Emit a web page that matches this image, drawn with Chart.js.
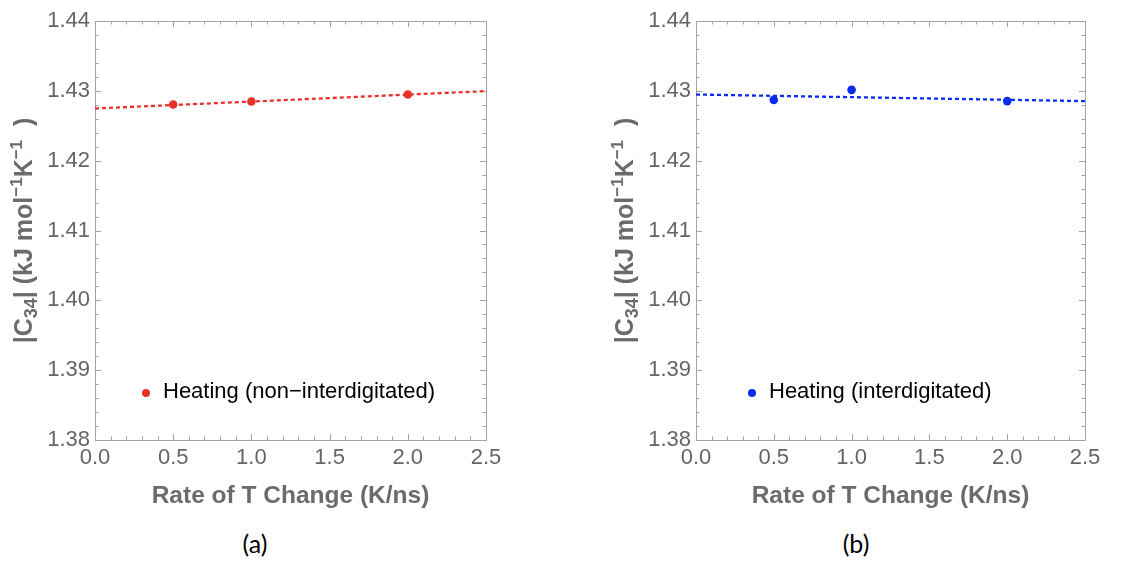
<!DOCTYPE html>
<html>
<head>
  <script src="https://cdn.jsdelivr.net/npm/chart.js@4/dist/chart.umd.min.js"></script>
  <style>
    body { margin: 0; background: #fff; }
    #wrap { position: relative; width: 1143px; height: 561px; }
    canvas { position: absolute; top: 0; }
    .cap { position: absolute; top: 528px; font-family: Lato, "Open Sans", sans-serif; font-size: 25px; color: #000; transform: translateX(-50%); }
  </style>
</head>
<body>
<div id="wrap">
  <canvas id="chartA" width="570" height="520" style="left:0px"></canvas>
  <canvas id="chartB" width="542" height="520" style="left:601px"></canvas>
  <div class="cap" style="left:255px">(a)</div>
  <div class="cap" style="left:856px">(b)</div>
</div>

<script>
// rates of temperature change (K/ns)
var rates = [0.5, 1.0, 2.0];
// |C34| values
var heatNonInter = [1.42804, 1.42847, 1.42947];
var heatInter = [1.42871, 1.43014, 1.42853];
// dotted fit lines, ends at x = 0 and x = 2.5
var fitX = [0, 2.5];
var fitNonInter = [1.42747, 1.42996];
var fitInter = [1.42947, 1.42853];
// tick labels
var xTicks = [0.0, 0.5, 1.0, 1.5, 2.0, 2.5];
var yTicks = [1.38, 1.39, 1.40, 1.41, 1.42, 1.43, 1.44];

var tickColor = "#656565";
var frameColor = "#a3a3a3";
var sans = "'Liberation Sans', Arial, sans-serif";

function pts(xs, ys) {
  return xs.map(function(x, i) { return {x: x, y: ys[i]}; });
}

// frame, inward ticks, axis titles and the legend, Mathematica style
var framePlugin = {
  id: "frame",
  beforeDatasetsDraw: function(chart) {
    var ctx = chart.ctx, a = chart.chartArea;
    var xs = chart.scales.x, ys = chart.scales.y;
    ctx.save();
    ctx.strokeStyle = frameColor;
    ctx.lineWidth = 1;
    ctx.strokeRect(Math.round(a.left) + 0.5, Math.round(a.top) + 0.5, Math.round(a.right - a.left), Math.round(a.bottom - a.top));
    ctx.beginPath();
    for (var i = 0; i <= 25; i++) {
      var px = Math.round(xs.getPixelForValue(i / 10)) + 0.5;
      var len = (i % 5 === 0) ? 6 : 3.5;
      ctx.moveTo(px, a.bottom); ctx.lineTo(px, a.bottom - len);
      ctx.moveTo(px, a.top); ctx.lineTo(px, a.top + len);
    }
    for (var j = 0; j <= 30; j++) {
      var py = Math.round(ys.getPixelForValue(1.38 + j * 0.002)) + 0.5;
      var l2 = (j % 5 === 0) ? 6 : 3.5;
      ctx.moveTo(a.left, py); ctx.lineTo(a.left + l2, py);
      ctx.moveTo(a.right, py); ctx.lineTo(a.right - l2, py);
    }
    ctx.stroke();
    ctx.restore();
  },
  afterDraw: function(chart, args, opts) {
    var ctx = chart.ctx, a = chart.chartArea;
    ctx.save();
    // x title
    ctx.fillStyle = "#6b6b6b";
    ctx.font = "bold 24.5px " + sans;
    ctx.textAlign = "center";
    ctx.textBaseline = "middle";
    ctx.fillText("Rate of T Change (K/ns)", (a.left + a.right) / 2, a.bottom + 56);

    // y title with sub and superscripts
    var segs = [
      {t: "|C", s: 25, dy: 0},
      {t: "34", s: 18, dy: 5},
      {t: "| (kJ mol", s: 25, dy: 0},
      {t: "\u22121", s: 17, dy: -10},
      {t: "K", s: 25, dy: 0},
      {t: "\u22121", s: 17, dy: -10},
      {t: "  )", s: 25, dy: 0}
    ];
    var total = 0;
    segs.forEach(function(g) {
      ctx.font = "bold " + g.s + "px " + sans;
      g.w = ctx.measureText(g.t).width;
      total += g.w;
    });
    ctx.translate(a.left - 72, (a.top + a.bottom) / 2);
    ctx.rotate(-Math.PI / 2);
    ctx.textAlign = "left";
    ctx.textBaseline = "alphabetic";
    var cx = -total / 2;
    segs.forEach(function(g) {
      ctx.font = "bold " + g.s + "px " + sans;
      ctx.fillText(g.t, cx, 9 + g.dy);
      cx += g.w;
    });
    ctx.restore();

    // legend inside the plot
    ctx.save();
    var lx = a.left + opts.dx, ly = a.top + 372;
    ctx.fillStyle = opts.color;
    ctx.beginPath();
    ctx.arc(lx, ly, 4, 0, Math.PI * 2);
    ctx.fill();
    ctx.fillStyle = "#000";
    ctx.font = "22px " + sans;
    ctx.textAlign = "left";
    ctx.textBaseline = "middle";
    ctx.fillText(opts.label, lx + 17, ly - 1);
    ctx.restore();
  }
};

function makePanel(id, pointVals, fitVals, color, label, padRight, legendDx) {
  var ctx = document.getElementById(id).getContext("2d");
  return new Chart(ctx, {
    type: "scatter",
    data: {
      datasets: [{
        label: label,
        data: pts(rates, pointVals),
        backgroundColor: color,
        borderWidth: 0,
        pointRadius: 4.3,
        order: 0
      }, {
        label: "fit",
        data: pts(fitX, fitVals),
        showLine: true,
        borderColor: color,
        borderWidth: 2.3,
        borderDash: [4, 3],
        pointRadius: 0,
        fill: false,
        order: 1
      }]
    },
    options: {
      responsive: false,
      animation: false,
      layout: { padding: { left: 0, top: 21, right: padRight, bottom: 0 } },
      plugins: {
        legend: { display: false },
        tooltip: { enabled: false },
        frame: { color: color, label: label, dx: legendDx }
      },
      scales: {
        x: {
          type: "linear",
          min: 0, max: 2.5,
          grid: { display: false, drawTicks: false },
          border: { display: false },
          afterBuildTicks: function(s) { s.ticks = xTicks.map(function(v) { return {value: v}; }); },
          afterFit: function(s) { s.height = 80; },
          ticks: {
            color: tickColor,
            padding: 5,
            maxRotation: 0,
            font: { family: sans, size: 22 },
            callback: function(v) { return Number(v).toFixed(1); }
          }
        },
        y: {
          type: "linear",
          min: 1.38, max: 1.44,
          grid: { display: false, drawTicks: false },
          border: { display: false },
          afterBuildTicks: function(s) { s.ticks = yTicks.map(function(v) { return {value: v}; }); },
          afterFit: function(s) { s.width = 95; },
          ticks: {
            color: tickColor,
            padding: 5,
            font: { family: sans, size: 22 },
            callback: function(v) { return Number(v).toFixed(2); }
          }
        }
      }
    },
    plugins: [framePlugin]
  });
}

makePanel("chartA", heatNonInter, fitNonInter, "#e8312a", "Heating (non\u2212interdigitated)", 84, 51);
makePanel("chartB", heatInter, fitInter, "#0a2cf0", "Heating (interdigitated)", 58, 56);
</script>
</body>
</html>
